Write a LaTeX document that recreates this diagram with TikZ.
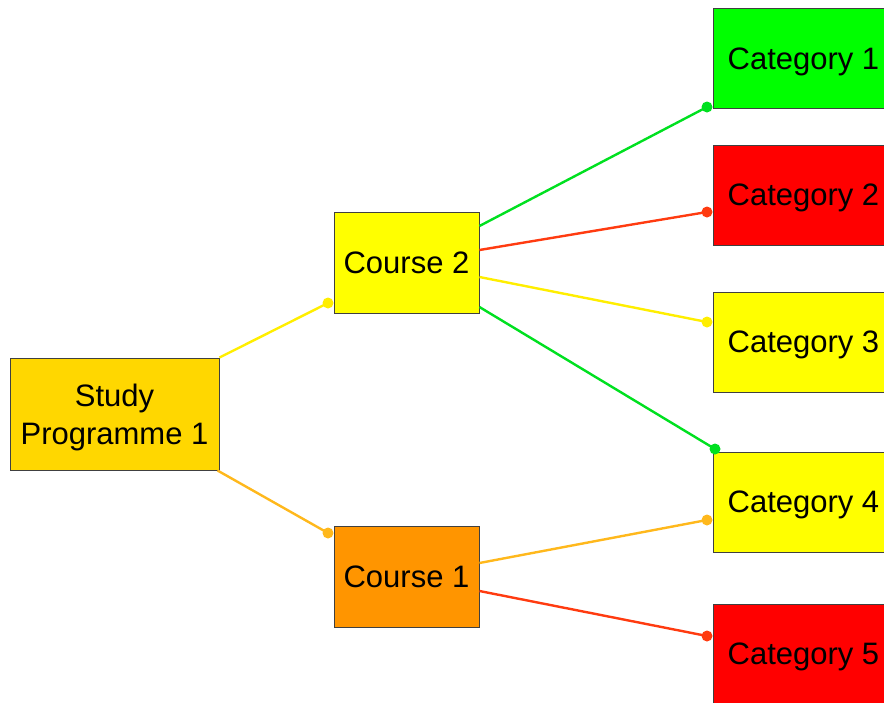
\documentclass[tikz,border=0pt]{standalone}
\usepackage{fontspec}
\setmainfont{Liberation Sans}
\definecolor{cgold}{HTML}{FFD700}
\definecolor{cyel}{HTML}{FFFF00}
\definecolor{corange}{HTML}{FF9500}
\definecolor{cgreen}{HTML}{00FF00}
\definecolor{cred}{HTML}{FF0000}
\definecolor{lyel}{HTML}{FFEE00}
\definecolor{lorange}{HTML}{FFB81C}
\definecolor{lred}{HTML}{FF3B10}
\definecolor{lgreen}{HTML}{00E020}
\tikzset{
  box/.style={draw=black!75, line width=0.9pt, inner sep=0pt,
    font=\fontsize{31}{38}\selectfont, align=center, text depth=-1pt},
  course/.style={box, minimum width=145pt, minimum height=101pt},
  cat/.style={box, minimum width=180pt, minimum height=100pt, anchor=west},
  link/.style={line width=2.4pt}
}
\begin{document}
\begin{tikzpicture}[x=1pt,y=-1pt]
\useasboundingbox (0,0) rectangle (884,702);

% programme, courses and categories
\node[box, fill=cgold, minimum width=209pt, minimum height=112pt] (sp) at (114.5,414) {Study\\Programme 1};
\node[course, fill=cyel] (c2) at (406.5,262.5) {Course 2};
\node[course, fill=corange] (c1) at (406.5,577) {Course 1};
\node[cat, fill=cgreen] (k1n) at (713,58.5) {Category 1};
\node[cat, fill=cred] (k2n) at (713,195) {Category 2};
\node[cat, fill=cyel] (k3n) at (713,342) {Category 3};
\node[cat, fill=cyel] (k4n) at (713,502) {Category 4};
\node[cat, fill=cred] (k5n) at (713,654) {Category 5};

% connector ends
\coordinate (dc2) at (328,303);
\coordinate (dc1) at (328,533);
\coordinate (d1) at (707,107);
\coordinate (d2) at (707,212);
\coordinate (d3) at (707,322);
\coordinate (d4) at (715,449);
\coordinate (d5) at (707,520);
\coordinate (d6) at (707,636);

% connectors
\draw[link, lyel] (sp.north east) -- (dc2);
\draw[link, lorange] ([xshift=-2pt]sp.south east) -- (dc1);
\draw[link, lgreen] ([yshift=36.5pt]c2.east) -- (d1);
\draw[link, lred] ([yshift=12.5pt]c2.east) -- (d2);
\draw[link, lyel] ([yshift=-14.5pt]c2.east) -- (d3);
\draw[link, lgreen] ([yshift=-44.5pt]c2.east) -- (d4);
\draw[link, lorange] ([yshift=14pt]c1.east) -- (d5);
\draw[link, lred] ([yshift=-14pt]c1.east) -- (d6);

% end knobs
\fill[lyel] (dc2) circle (5.5pt);
\fill[lorange] (dc1) circle (5.5pt);
\fill[lgreen] (d1) circle (5.5pt);
\fill[lred] (d2) circle (5.5pt);
\fill[lyel] (d3) circle (5.5pt);
\fill[lgreen] (d4) circle (5.5pt);
\fill[lorange] (d5) circle (5.5pt);
\fill[lred] (d6) circle (5.5pt);
\end{tikzpicture}
\end{document}
